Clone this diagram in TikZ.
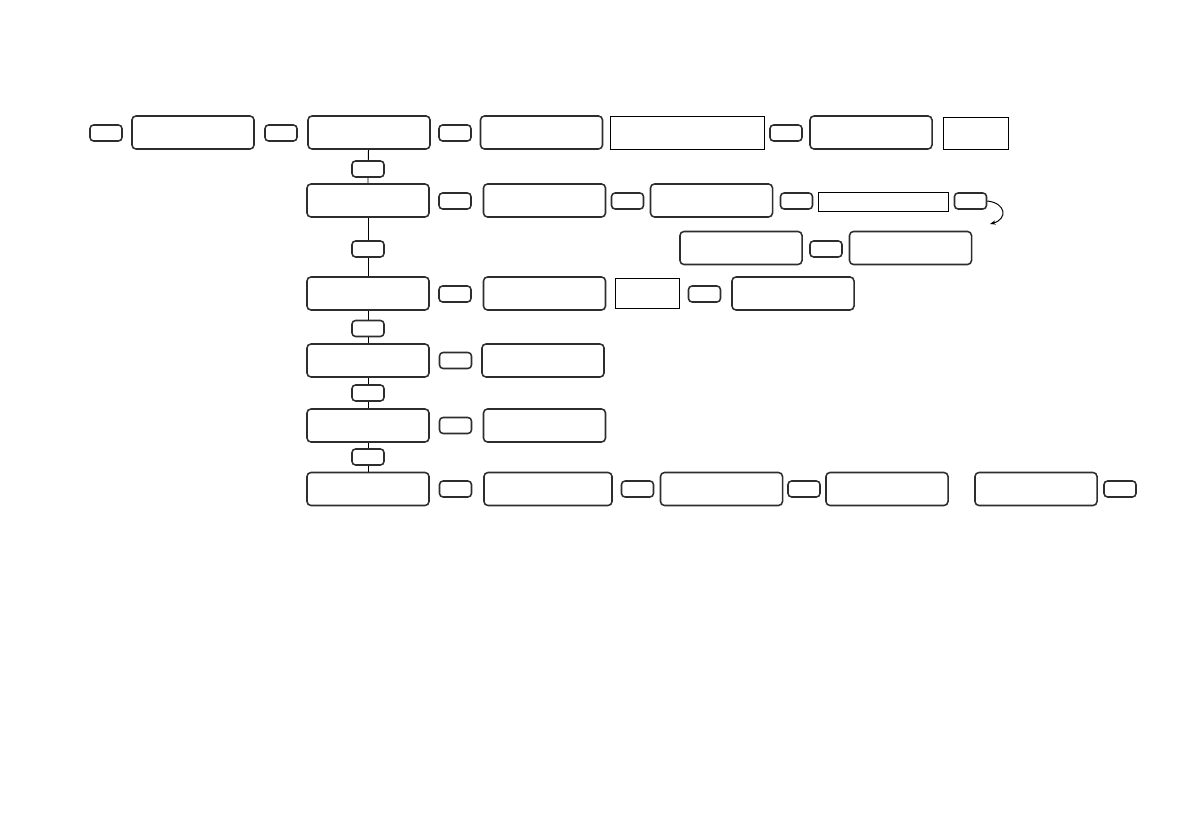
\documentclass[tikz,border=0pt]{standalone}
\usepackage{tikz}
\usetikzlibrary{arrows.meta,positioning}
\definecolor{trazo}{RGB}{45,45,45}
\tikzset{
  caja/.style={draw=trazo,line width=1.1pt,rounded corners=0.1cm,fill=white,minimum width=3.05cm,minimum height=0.825cm,inner sep=0pt},
  boton/.style={draw=trazo,line width=1.1pt,rounded corners=0.09cm,fill=white,minimum width=0.8cm,minimum height=0.4cm,inner sep=0pt},
  marco/.style={draw=black,line width=0.7pt,fill=white,inner sep=0pt},
  enlace/.style={draw=black,line width=0.7pt}
}
\begin{document}
\begin{tikzpicture}[x=0.025cm,y=-0.025cm]
\useasboundingbox (0,0) rectangle (1191,839);
% fila 1
\node[boton] (s0) at (106,133) {};
\node[caja] (b0) at (193,132.5) {};
\node[boton] (s1) at (281,133) {};
\node[caja] (m1) at (369,132.5) {};
\node[boton] (s2) at (455,133) {};
\node[caja] (b2) at (541.5,132.5) {};
\node[marco,minimum width=3.825cm,minimum height=0.8cm] (r1) at (687.5,133) {};
\node[boton] (s3) at (786,133) {};
\node[caja] (b3) at (871,132.5) {};
\node[marco,minimum width=1.625cm,minimum height=0.775cm] (r2) at (975.5,133.5) {};
% fila 2
\node[boton] (v1) at (368,169) {};
\node[caja] (m2) at (368,200.5) {};
\node[boton] (s4) at (455,201) {};
\node[caja] (b4) at (544.5,200.5) {};
\node[boton] (s5) at (627.5,201) {};
\node[caja] (b5) at (711.5,200.5) {};
\node[boton] (s6) at (796.5,201) {};
\node[marco,minimum width=3.25cm,minimum height=0.475cm] (r3) at (883,201.5) {};
\node[boton] (s7) at (970.5,201) {};
\coordinate (rizo) at (990,224);
% fila intermedia
\node[boton] (v2) at (368,249) {};
\node[caja] (b6) at (741,248) {};
\node[boton] (s8) at (826,249) {};
\node[caja] (b7) at (910.5,248) {};
% fila 3
\node[caja] (m3) at (368,293.5) {};
\node[boton] (s9) at (455,294) {};
\node[caja] (b8) at (544.5,293.5) {};
\node[marco,minimum width=1.6cm,minimum height=0.75cm] (r4) at (647,293) {};
\node[boton] (s10) at (704.5,294) {};
\node[caja] (b9) at (793,293.5) {};
% fila 4
\node[boton] (v3) at (368,328.5) {};
\node[caja] (m4) at (368,360.5) {};
\node[boton] (s11) at (455.5,360.5) {};
\node[caja] (b10) at (543,360.5) {};
% fila 5
\node[boton] (v4) at (368,393) {};
\node[caja] (m5) at (368,425.5) {};
\node[boton] (s12) at (455.5,425.5) {};
\node[caja] (b11) at (544.5,425.5) {};
% fila 6
\node[boton] (v5) at (368,457) {};
\node[caja] (m6) at (368,489) {};
\node[boton] (s13) at (455.5,489) {};
\node[caja,minimum width=3.2cm] (b12) at (548,489) {};
\node[boton] (s14) at (637.5,489) {};
\node[caja] (b13) at (721.5,489) {};
\node[boton] (s15) at (804,489) {};
\node[caja] (b14) at (887,489) {};
\node[caja] (b15) at (1036,489) {};
\node[boton] (s16) at (1120,489) {};
% conexiones
\draw[enlace] (m1) -- (v1) -- (m2);
\draw[enlace] (m2) -- (v2) -- (m3);
\draw[enlace] (m3) -- (v3) -- (m4);
\draw[enlace] (m4) -- (v4) -- (m5);
\draw[enlace] (m5) -- (v5) -- (m6);
\draw[enlace,-{Stealth[length=4pt,width=3pt]}] (s7.east) .. controls (1006,203) and (1008,219) .. (rizo);
\end{tikzpicture}
\end{document}
